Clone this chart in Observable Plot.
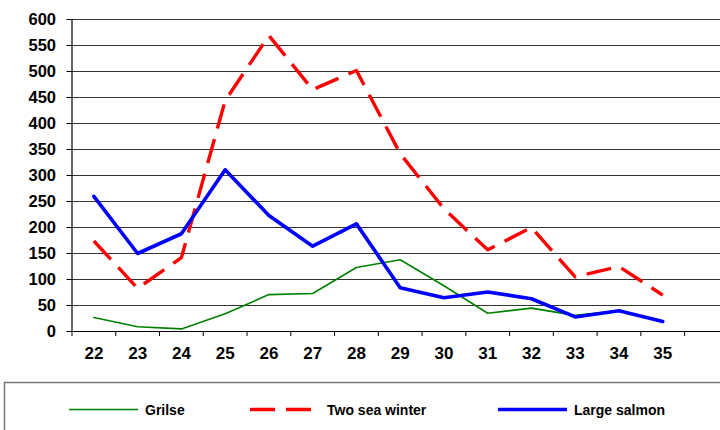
<!DOCTYPE html>
<html>
<head>
<meta charset="utf-8">
<script src="https://cdn.jsdelivr.net/npm/d3@7"></script>
<script src="https://cdn.jsdelivr.net/npm/@observablehq/plot@0.6"></script>
<style>
  html, body { margin: 0; padding: 0; background: #fff; }
  body { width: 720px; height: 430px; overflow: hidden; position: relative; font-family: "Liberation Sans", Arial, sans-serif; }
  #chart { position: absolute; left: 0; top: 0; width: 720px; height: 362px; }
  #legend { position: absolute; left: 0; top: 372px; width: 720px; height: 58px; }
</style>
</head>
<body>
<div id="chart"></div>
<div id="legend"></div>
<script>
// ---- data ----
const years = [22, 23, 24, 25, 26, 27, 28, 29, 30, 31, 32, 33, 34, 35];
const grilse = [27, 9, 5, 34, 71, 73, 123, 138, 88, 35, 45, 31, 40, 20];
const twoSeaWinter = [174, 83, 142, 444, 569, 465, 502, 342, 236, 157, 200, 105, 125, 70];
const largeSalmon = [260, 150, 188, 311, 223, 164, 207, 84, 65, 76, 63, 28, 40, 19];
const seriesNames = ["Grilse", "Two sea winter", "Large salmon"];
const seriesColors = ["#008000", "#ff0000", "#0000ff"];
const yTicks = [0, 50, 100, 150, 200, 250, 300, 350, 400, 450, 500, 550, 600];
const xTickLabels = years.map(String);

const rows = [];
[grilse, twoSeaWinter, largeSalmon].forEach((vals, i) => {
  vals.forEach((v, j) => rows.push({series: seriesNames[i], year: years[j], value: v}));
});
const bySeries = name => rows.filter(r => r.series === name);
const boundaries = years.map(y => y - 0.5).concat([years[years.length - 1] + 0.5]);

const chart = Plot.plot({
  width: 720,
  height: 362,
  marginLeft: 71.5,
  marginRight: 0,
  marginTop: 19,
  marginBottom: 31,
  style: {fontFamily: "'Liberation Sans', Arial, sans-serif", color: "#000", background: "#fff"},
  x: {type: "linear", domain: [21.5, 36.32], axis: null},
  y: {domain: [0, 600], axis: null},
  marks: [
    Plot.ruleY(yTicks.filter(d => d > 0), {stroke: "#333", strokeWidth: 1}),
    Plot.axisY(yTicks, {label: null, tickSize: 5, tickPadding: 11, fontSize: 16.5, fontWeight: "bold", tickFormat: d => String(d), stroke: "#000"}),
    Plot.axisX(boundaries, {label: null, tickSize: 5, tickFormat: () => "", stroke: "#000"}),
    Plot.ruleX([21.5], {stroke: "#000", strokeWidth: 1.2}),
    Plot.ruleY([0], {stroke: "#000", strokeWidth: 1.2}),
    Plot.text(years, {x: d => d, y: 0, dy: 22.5, text: (d, i) => xTickLabels[i], fontSize: 17, fontWeight: "bold", lineAnchor: "middle", fill: "#000"}),
    Plot.line(bySeries("Grilse"), {x: "year", y: "value", stroke: seriesColors[0], strokeWidth: 1.6}),
    Plot.line(bySeries("Two sea winter"), {x: "year", y: "value", stroke: seriesColors[1], strokeWidth: 3.4, strokeDasharray: "25,11", strokeLinecap: "butt"}),
    Plot.line(bySeries("Large salmon"), {x: "year", y: "value", stroke: seriesColors[2], strokeWidth: 3.6})
  ]
});
document.getElementById("chart").appendChild(chart);

// ---- legend (box top at page y=382) ----
const off = 372;
const lg = d3.select("#legend").append("svg").attr("width", 720).attr("height", 58).style("display", "block");
lg.append("rect").attr("x", 4.5).attr("y", 382.5 - off).attr("width", 760).attr("height", 100)
  .attr("fill", "none").attr("stroke", "#777").attr("stroke-width", 1.5);
const items = [
  {x1: 69, x2: 138, tx: 145, w: 1.6, dash: null},
  {x1: 250, x2: 311, tx: 327, w: 3.4, dash: "25,11"},
  {x1: 498, x2: 567, tx: 574, w: 3.6, dash: null}
];
items.forEach((it, i) => {
  const l = lg.append("line").attr("x1", it.x1).attr("x2", it.x2).attr("y1", 409.5 - off).attr("y2", 409.5 - off)
    .attr("stroke", seriesColors[i]).attr("stroke-width", it.w);
  if (it.dash) l.attr("stroke-dasharray", it.dash);
  lg.append("text").attr("x", it.tx).attr("y", 410 - off).attr("dy", "0.35em")
    .attr("font-family", "'Liberation Sans', Arial, sans-serif").attr("font-weight", "bold")
    .attr("font-size", 14).attr("fill", "#000").text(seriesNames[i]);
});
</script>
</body>
</html>
